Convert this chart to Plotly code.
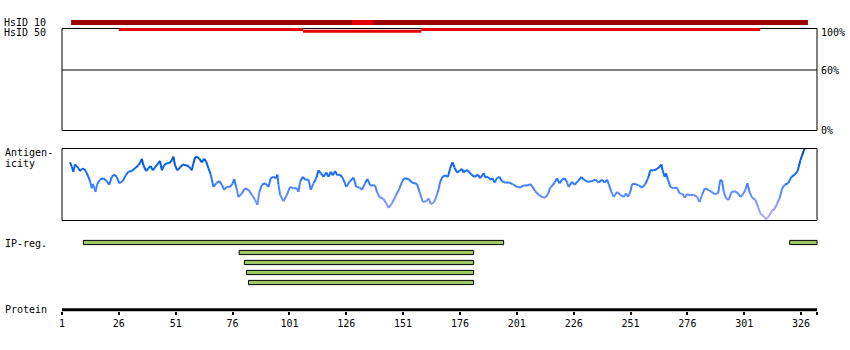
import plotly.graph_objects as go

W, H = 850, 350

# ---------------- data ----------------
protein_length = 333
tick_vals = [1, 26, 51, 76, 101, 126, 151, 176, 201, 226, 251, 276, 301, 326]

residue = [4.5, 5.3, 6.0, 6.7, 7.5, 8.2, 8.9, 9.7, 10.7, 11.6, 12.6, 13.3, 14.1, 14.5, 15.1, 15.7, 16.5, 17.7,
           19.2, 20.7, 21.8, 22.9, 23.9, 25.1, 26.2, 27.7, 29.2, 30.2, 31.7, 33.1, 34.6, 35.3, 36.1, 36.8, 38.0,
           39.0, 40.0, 40.9, 41.9, 43.4, 44.1, 44.9, 45.9, 47.1, 48.2, 49.3, 50.0, 50.7, 51.7, 52.9, 54.1, 55.6,
           57.0, 58.1, 58.8, 59.5, 60.3, 61.4, 62.5, 63.5, 64.4, 65.4, 66.4, 67.6, 68.8, 70.2, 71.3, 72.3, 73.5,
           74.9, 76.1, 76.7, 77.6, 78.6, 80.1, 81.5, 83.0, 84.5, 85.9, 86.9, 87.8, 88.9, 90.3, 91.8, 92.8, 94.0,
           95.2, 95.7, 96.2, 96.9, 98.4, 99.9, 101.3, 102.8, 104.3, 105.0, 105.7, 106.9, 107.9, 109.4, 110.4,
           111.6, 112.8, 113.8, 114.8, 116.0, 117.2, 118.2, 119.2, 120.1, 121.1, 122.1, 123.3, 124.5, 126.0,
           127.4, 129.2, 130.4, 131.8, 132.9, 134.3, 135.3, 136.5, 138.7, 139.5, 140.6, 142.4, 143.6, 144.6,
           146.1, 148.0, 149.4, 150.5, 151.5, 153.4, 154.9, 157.1, 158.2, 159.7, 161.2, 162.2, 163.2, 164.7,
           166.3, 167.3, 168.3, 169.5, 170.7, 171.7, 172.7, 173.6, 174.7, 175.7, 176.9, 177.6, 178.6, 179.8,
           181.0, 182.4, 183.9, 184.9, 186.4, 187.1, 188.3, 189.3, 190.3, 191.2, 192.3, 193.3, 194.5, 195.9,
           197.7, 199.1, 201.1, 202.5, 204.0, 205.9, 206.9, 207.9, 209.1, 210.6, 212.1, 213.5, 214.7, 215.7,
           216.7, 217.6, 218.7, 219.7, 220.9, 222.0, 223.1, 223.8, 225.3, 226.4, 227.9, 229.4, 230.4, 232.3,
           234.1, 235.5, 237.0, 238.5, 239.6, 240.7, 241.4, 242.6, 243.6, 245.1, 246.5, 248.0, 249.0, 249.9,
           250.9, 251.7, 253.1, 254.6, 256.1, 257.5, 258.7, 259.7, 261.2, 262.7, 263.7, 264.6, 265.1, 266.0,
           266.6, 267.5, 268.5, 270.0, 271.5, 272.5, 273.9, 274.8, 275.9, 277.3, 278.8, 280.3, 281.3, 282.5,
           283.6, 285.1, 286.6, 288.0, 289.5, 290.5, 291.3, 292.0, 293.0, 294.2, 295.4, 296.8, 298.3, 299.3,
           300.3, 301.5, 302.4, 303.3, 304.5, 305.9, 307.1, 308.1, 309.6, 310.6, 311.8, 313.0, 314.4, 315.5,
           316.5, 317.7, 318.8, 320.3, 321.8, 323.2, 324.3, 325.0, 325.7, 326.5, 327.6]

antigenicity = [0.80, 0.74, 0.67, 0.77, 0.75, 0.72, 0.68, 0.71, 0.71, 0.67, 0.60, 0.54, 0.44, 0.50, 0.46, 0.39,
                0.50, 0.56, 0.58, 0.54, 0.49, 0.60, 0.63, 0.60, 0.51, 0.54, 0.63, 0.67, 0.68, 0.72, 0.76, 0.79,
                0.85, 0.76, 0.68, 0.72, 0.75, 0.69, 0.73, 0.79, 0.82, 0.69, 0.76, 0.79, 0.79, 0.83, 0.88, 0.76,
                0.69, 0.73, 0.77, 0.76, 0.74, 0.69, 0.79, 0.87, 0.88, 0.85, 0.80, 0.85, 0.81, 0.72, 0.63, 0.46,
                0.51, 0.54, 0.49, 0.42, 0.46, 0.46, 0.51, 0.57, 0.46, 0.32, 0.37, 0.44, 0.42, 0.35, 0.28, 0.21,
                0.39, 0.49, 0.51, 0.46, 0.58, 0.60, 0.58, 0.63, 0.49, 0.35, 0.26, 0.35, 0.46, 0.44, 0.44, 0.39,
                0.53, 0.60, 0.56, 0.56, 0.42, 0.51, 0.58, 0.69, 0.65, 0.60, 0.66, 0.60, 0.67, 0.62, 0.68, 0.62,
                0.63, 0.58, 0.46, 0.53, 0.59, 0.46, 0.45, 0.42, 0.51, 0.57, 0.48, 0.48, 0.39, 0.32, 0.29, 0.23,
                0.17, 0.23, 0.35, 0.44, 0.53, 0.58, 0.57, 0.52, 0.50, 0.39, 0.25, 0.26, 0.30, 0.22, 0.25, 0.39,
                0.53, 0.60, 0.62, 0.60, 0.72, 0.80, 0.73, 0.66, 0.68, 0.71, 0.66, 0.69, 0.68, 0.63, 0.60, 0.63,
                0.58, 0.65, 0.59, 0.60, 0.56, 0.58, 0.52, 0.58, 0.60, 0.54, 0.52, 0.52, 0.50, 0.46, 0.45, 0.48,
                0.48, 0.50, 0.46, 0.40, 0.35, 0.32, 0.31, 0.36, 0.45, 0.48, 0.52, 0.58, 0.51, 0.56, 0.58, 0.52,
                0.46, 0.53, 0.49, 0.54, 0.60, 0.56, 0.53, 0.54, 0.56, 0.52, 0.56, 0.52, 0.56, 0.50, 0.39, 0.32,
                0.39, 0.35, 0.32, 0.37, 0.32, 0.39, 0.50, 0.50, 0.48, 0.45, 0.50, 0.58, 0.69, 0.69, 0.71, 0.74,
                0.77, 0.69, 0.60, 0.65, 0.56, 0.46, 0.44, 0.45, 0.37, 0.36, 0.31, 0.36, 0.34, 0.35, 0.32, 0.25,
                0.35, 0.44, 0.42, 0.39, 0.36, 0.37, 0.56, 0.54, 0.39, 0.30, 0.28, 0.39, 0.40, 0.37, 0.32, 0.35,
                0.42, 0.51, 0.39, 0.31, 0.28, 0.18, 0.09, 0.05, 0.01, 0.05, 0.12, 0.16, 0.23, 0.30, 0.44, 0.49,
                0.51, 0.60, 0.63, 0.67, 0.74, 0.83, 0.90, 1.00]

hsid10_start = [5.0]
hsid10_end = [329.0]
hsid10_hi_start = [128.5]
hsid10_hi_end = [138.0]
hsid50_start = [26.0, 159.0]
hsid50_end = [107.0, 308.0]
hsid50_low_start = [107.0]
hsid50_low_end = [159.0]

ip_start = [10.4, 78.9, 81.2, 82.1, 83.0, 321.0]
ip_end = [195.2, 182.0, 182.0, 182.0, 182.0, 333.0]
ip_row = [0, 1, 2, 3, 4, 0]

# ---------------- layout helpers ----------------
X0_PX, X1_PX = 62, 817
ppr = (X1_PX - X0_PX) / (protein_length - 1)
x_range = [1 - X0_PX / ppr, 1 + (W - X0_PX) / ppr]


def py(p):
    return 1 - p / H


FONT = "DejaVu Sans Mono"

stops = [(0.0, (182, 172, 255)), (0.25, (122, 146, 255)), (0.45, (72, 132, 255)),
         (0.6, (25, 112, 255)), (0.8, (0, 92, 222)), (1.0, (0, 72, 150))]


def colour(v):
    v = max(0.0, min(1.0, v))
    for (a, ca), (b, cb) in zip(stops[:-1], stops[1:]):
        if v <= b:
            t = (v - a) / (b - a)
            c = [round(ca[i] + (cb[i] - ca[i]) * t) for i in range(3)]
            return "rgb(%d,%d,%d)" % tuple(c)
    return "rgb(%d,%d,%d)" % stops[-1][1]


fig = go.Figure()

# invisible trace to keep identity axis alive
fig.add_trace(go.Scatter(x=[1], y=[0], mode="markers", marker=dict(opacity=0),
                         xaxis="x", yaxis="y", showlegend=False, hoverinfo="skip"))

# antigenicity curve, coloured by value
nb = 30
bins = {}
for i in range(len(residue) - 1):
    mid = (antigenicity[i] + antigenicity[i + 1]) / 2
    b = min(int(mid * nb), nb - 1)
    bins.setdefault(b, ([], []))
    bins[b][0].extend([residue[i], residue[i + 1], None])
    bins[b][1].extend([antigenicity[i], antigenicity[i + 1], None])
for b, (xs, ys) in sorted(bins.items()):
    fig.add_trace(go.Scatter(x=xs, y=ys, mode="lines", xaxis="x", yaxis="y2",
                             line=dict(color=colour((b + 0.5) / nb), width=2),
                             showlegend=False, hoverinfo="skip"))

# IP-reg bars
fig.add_trace(go.Bar(orientation="h", y=ip_row, base=ip_start,
                     x=[e - s for s, e in zip(ip_start, ip_end)],
                     xaxis="x", yaxis="y3", width=0.42,
                     marker=dict(color="#a0c862", line=dict(color="black", width=1)),
                     showlegend=False, hoverinfo="skip"))

shapes = []
# boxes
shapes.append(dict(type="rect", xref="x", yref="paper", x0=1, x1=protein_length,
                   y0=py(130.5), y1=py(28.5), line=dict(color="black", width=1)))
shapes.append(dict(type="line", xref="x", yref="y", x0=1, x1=protein_length, y0=60, y1=60,
                   line=dict(color="black", width=1)))
shapes.append(dict(type="rect", xref="x", yref="paper", x0=1, x1=protein_length,
                   y0=py(220.5), y1=py(148.5), line=dict(color="black", width=1)))
# HsID bars
for s, e in zip(hsid10_start, hsid10_end):
    shapes.append(dict(type="rect", xref="x", yref="paper", x0=s, x1=e, y0=py(25), y1=py(20),
                       fillcolor="#990000", line=dict(width=0)))
for s, e in zip(hsid10_hi_start, hsid10_hi_end):
    shapes.append(dict(type="rect", xref="x", yref="paper", x0=s, x1=e, y0=py(25), y1=py(20),
                       fillcolor="#e40000", line=dict(width=0)))
for s, e in zip(hsid50_start, hsid50_end):
    shapes.append(dict(type="rect", xref="x", yref="paper", x0=s, x1=e, y0=py(31), y1=py(28),
                       fillcolor="#e40000", line=dict(width=0)))
for s, e in zip(hsid50_low_start, hsid50_low_end):
    shapes.append(dict(type="rect", xref="x", yref="paper", x0=s, x1=e, y0=py(32.7), y1=py(29.7),
                       fillcolor="#e40000", line=dict(width=0)))
# protein axis line
shapes.append(dict(type="line", xref="x", yref="paper", x0=1, x1=protein_length,
                   y0=py(309.7), y1=py(309.7), line=dict(color="black", width=3)))

annotations = []


def label(text, x, y, anchor="left"):
    annotations.append(dict(text=text, xref="paper", yref="paper", x=x / W, y=py(y),
                            xanchor=anchor, yanchor="middle", showarrow=False,
                            font=dict(family=FONT, size=10, color="black")))


label("HsID 10", 2, 22.5)
label("HsID 50", 2, 32.5)
label("Antigen-", 3, 152.7)
label("icity", 3, 163)
label("IP-reg.", 3, 243.5)
label("Protein", 3, 309.5)
label("100%", 819, 32.5)
label("60%", 819, 70.7)
label("0%", 819, 130)

fig.update_layout(
    width=W, height=H, margin=dict(l=0, r=0, t=0, b=0),
    paper_bgcolor="white", plot_bgcolor="white",
    barmode="overlay",
    xaxis=dict(range=x_range, domain=[0, 1], anchor="free", position=py(311),
               showline=False, showgrid=False, zeroline=False,
               ticks="outside", ticklen=3, tickwidth=2, tickcolor="black",
               tickvals=tick_vals + [protein_length],
               ticktext=[str(t) for t in tick_vals] + [""],
               tickfont=dict(family=FONT, size=10, color="black"), fixedrange=True),
    yaxis=dict(domain=[py(130), py(30)], range=[0, 100], visible=False, anchor="x", fixedrange=True),
    yaxis2=dict(domain=[py(220), py(148)], range=[0, 1], visible=False, anchor="x", fixedrange=True),
    yaxis3=dict(domain=[py(287.5), py(237.5)], range=[4.5, -0.5], visible=False, anchor="x",
                fixedrange=True),
    shapes=shapes, annotations=annotations,
)

fig.write_html("out.html", config={"displayModeBar": False})
